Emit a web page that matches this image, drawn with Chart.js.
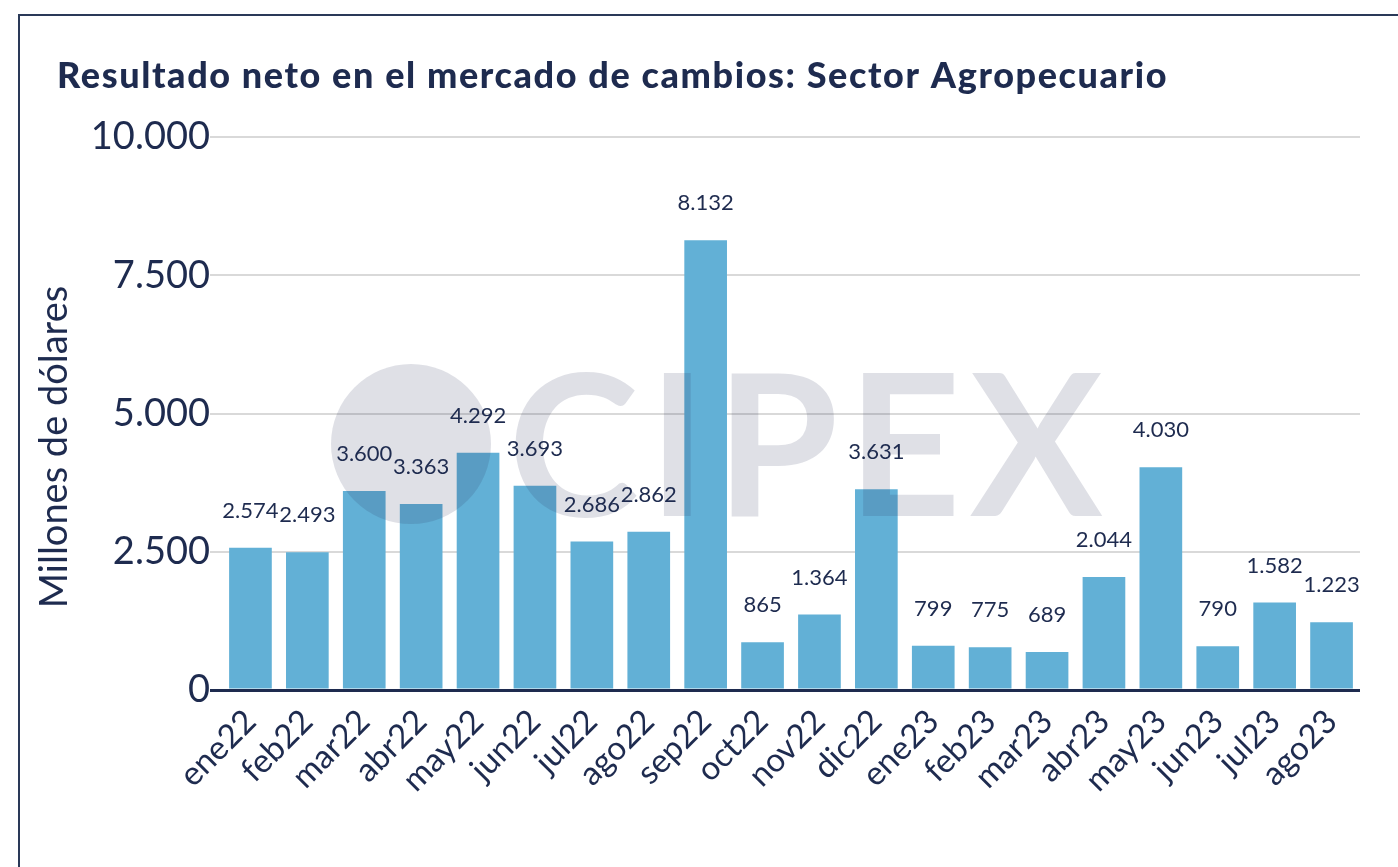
<!DOCTYPE html>
<html>
<head>
<meta charset="utf-8">
<script src="https://cdn.jsdelivr.net/npm/chart.js@4.4.1/dist/chart.umd.min.js"></script>
<style>
  html, body { margin: 0; padding: 0; background: #fff; overflow: hidden; }
  #frame { position: absolute; left: 18px; top: 14px; width: 2000px; height: 2000px;
           border-top: 2px solid #2a3958; border-left: 2px solid #2a3958; }
  #wrap { position: absolute; left: 0; top: 0; width: 1398px; height: 867px; }
</style>
</head>
<body>
<div id="frame"></div>
<div id="wrap"><canvas id="chart"></canvas></div>
<script>
const chartTitle = 'Resultado neto en el mercado de cambios: Sector Agropecuario'
const yTitle = 'Millones de dólares'
const months = ['ene22','feb22','mar22','abr22','may22','jun22','jul22','ago22','sep22','oct22','nov22','dic22',
                'ene23','feb23','mar23','abr23','may23','jun23','jul23','ago23']
const netResult = [2574, 2493, 3600, 3363, 4292, 3693, 2686, 2862, 8132, 865, 1364, 3631,
                   799, 775, 689, 2044, 4030, 790, 1582, 1223]
const yTicks = [0, 2500, 5000, 7500, 10000]

const navy = '#1e2b4f'
const barBlue = '#62b0d6'

// miles con punto: 2574 -> 2.574
const fmt = v => String(v).replace(/\B(?=(\d{3})+(?!\d))/g, '.')

// titulo general y titulo del eje Y (dibujados a mano para ubicarlos igual que el original)
const titlePlugin = {
  id: 'bigTitle',
  afterDraw(chart) {
    const ctx = chart.ctx
    ctx.save()
    ctx.fillStyle = navy
    ctx.font = '900 36px Lato'
    ctx.letterSpacing = '1.6px'
    ctx.textBaseline = 'alphabetic'
    ctx.textAlign = 'left'
    ctx.fillText(chartTitle, 57, 88)
    ctx.restore()

    ctx.save()
    ctx.fillStyle = navy
    ctx.font = '400 38px Lato'
    ctx.translate(55, 447)
    ctx.rotate(-Math.PI / 2)
    ctx.textAlign = 'center'
    ctx.textBaseline = 'middle'
    ctx.fillText(yTitle, 0, 0)
    ctx.restore()
  }
}

// marca de agua + etiquetas de valor
const overlayPlugin = {
  id: 'overlay',
  afterDatasetsDraw(chart) {
    const ctx = chart.ctx
    ctx.save()
    ctx.fillStyle = 'rgba(40, 50, 90, 0.15)'
    ctx.beginPath()
    ctx.arc(411, 444, 80, 0, Math.PI * 2)
    ctx.fill()
    ctx.font = '700 198px Lato'
    ctx.letterSpacing = '9px'
    ctx.textBaseline = 'alphabetic'
    ctx.textAlign = 'left'
    ctx.fillText('CIPEX', 508, 516)
    ctx.restore()

    ctx.save()
    ctx.fillStyle = navy
    ctx.font = '400 22px Lato'
    ctx.textAlign = 'center'
    ctx.textBaseline = 'middle'
    const meta = chart.getDatasetMeta(0)
    meta.data.forEach((bar, i) => {
      ctx.fillText(fmt(netResult[i]), bar.x, bar.y - 37)
    })
    ctx.restore()
  }
}

const data = {
  labels: months,
  datasets: [{
    data: netResult,
    backgroundColor: barBlue,
    barPercentage: 0.75,
    categoryPercentage: 1
  }]
}

const config = {
  type: 'bar',
  data: data,
  options: {
    responsive: true,
    maintainAspectRatio: false,
    animation: false,
    layout: { padding: { left: 0, right: 38, top: 137, bottom: 0 } },
    plugins: {
      legend: { display: false },
      tooltip: { enabled: false }
    },
    scales: {
      x: {
        grid: { display: false },
        border: { display: false },
        ticks: {
          color: navy,
          font: { family: 'Lato', size: 33 },
          minRotation: 45,
          maxRotation: 45,
          autoSkip: false,
          padding: 4
        },
        afterFit(scale) { scale.height = 177 }
      },
      y: {
        min: 0,
        max: 10000,
        afterBuildTicks(scale) { scale.ticks = yTicks.map(v => ({ value: v })) },
        border: { display: false },
        grid: {
          color: c => c.tick && c.tick.value === 0 ? navy : '#d9d9d9',
          lineWidth: c => c.tick && c.tick.value === 0 ? 3 : 2,
          tickLength: 12
        },
        ticks: {
          color: navy,
          font: { family: 'Lato', size: 38 },
          padding: 0,
          callback: v => fmt(v)
        },
        afterFit(scale) { scale.width = 222 }
      }
    }
  },
  plugins: [titlePlugin, overlayPlugin]
}

new Chart(document.getElementById('chart').getContext('2d'), config)
</script>
</body>
</html>
